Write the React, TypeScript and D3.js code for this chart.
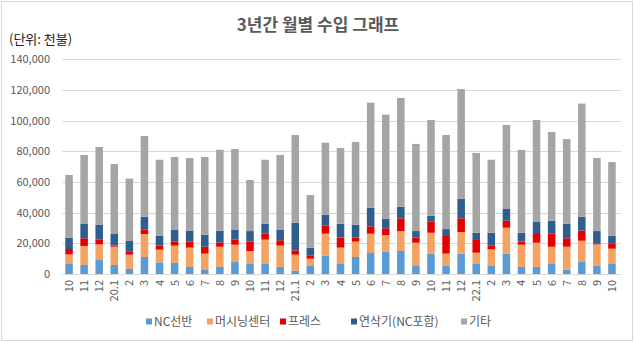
import React from "react";
import * as d3 from "d3";

const categories = ["10","11","12","20.1","2","3","4","5","6","7","8","9","10","11","12","21.1","2","3","4","5","6","7","8","9","10","11","12","22.1","2","3","4","5","6","7","8","9","10"];
const ncLathe = [6.5,5.9,9.1,5.9,3.3,11.1,7.6,7.2,4.6,2.6,4.6,7.8,6.5,6.5,4.6,2.2,5.2,11.9,6.5,11.1,13.7,14.6,15.0,5.2,13.3,5.2,13.3,6.5,5.2,13.3,4.6,4.6,6.5,2.8,7.8,5.2,6.5];
const machining = [6.3,12.4,10.2,11.9,9.3,15.0,8.3,11.3,12.6,10.7,13.2,11.3,8.5,15.9,13.9,10.4,4.8,14.4,10.7,10.0,12.6,10.8,13.0,15.2,13.6,8.1,14.1,7.4,10.9,16.9,14.5,15.8,11.3,15.0,13.9,14.1,10.0];
const press = [3.5,5.0,3.3,0.7,2.2,3.0,2.8,2.8,3.9,4.5,2.8,3.3,6.1,3.9,3.5,2.8,1.9,5.2,6.5,2.6,4.8,4.4,8.3,3.3,7.2,11.5,8.9,8.3,2.6,4.6,2.0,6.3,8.7,5.5,6.6,0.7,3.5];
const grinder = [7.4,9.3,9.4,7.6,6.7,8.3,6.3,7.4,7.2,7.8,7.7,6.3,6.9,6.5,6.7,18.1,5.3,7.2,9.1,8.5,12.1,6.3,7.6,4.3,3.9,4.5,12.8,4.7,8.2,7.6,5.8,7.2,8.3,9.5,9.1,8.0,5.0];
const others = [40.9,45.0,50.8,45.6,40.7,52.6,49.5,47.6,47.3,50.7,52.7,52.8,33.3,41.7,48.9,57.1,34.3,46.9,49.4,53.9,68.5,67.8,70.9,56.8,62.4,61.3,71.5,52.0,47.6,54.8,54.0,66.5,57.8,55.2,73.7,47.6,48.0];
const seriesNames = ["NC선반","머시닝센터","프레스","연삭기(NC포함)","기타"];
const seriesColors = ["#5b9bd5","#f4a262","#e50000","#2f5e8e","#a5a5a5"];
const yTicks = [0,20000,40000,60000,80000,100000,120000,140000];

const W = 634, H = 343;
const left = 61.5, right = 619.5, top = 59.3, bottom = 274;

export default function App() {
  const seriesData = [ncLathe, machining, press, grinder, others];
  const rows = categories.map((c, i) => {
    const r: any = { idx: i };
    seriesNames.forEach((s, k) => { r[s] = seriesData[k][i] * 1000; });
    return r;
  });
  const stack = d3.stack().keys(seriesNames)(rows as any);
  const x = d3.scaleBand<number>().domain(categories.map((_, i) => i)).range([left, right]).paddingInner(0.5).paddingOuter(0.25);
  const y = d3.scaleLinear().domain([0, 140000]).range([bottom, top]);
  const fmt = d3.format(",");
  const font = "'Malgun Gothic','Noto Sans CJK KR','Noto Sans',sans-serif";
  const legendX = [149, 210, 283, 354, 464];
  return (
    <svg width={W} height={H} style={{ position: "absolute", left: 0, top: 0, fontFamily: font }}>
      <rect x={0} y={0} width={W} height={H} fill="#fff" />
      <rect x={1.5} y={1.5} width={W - 3} height={H - 4} fill="none" stroke="#d9d9d9" />
      <text x={318} y={31} textAnchor="middle" fontSize={17} fontWeight="bold" fill="#595959">3년간 월별 수입 그래프</text>
      <text x={9} y={44} fontSize={13} fill="#222">(단위: 천불)</text>
      {yTicks.map(t => (
        <g key={t}>
          <line x1={62} x2={621} y1={Math.round(y(t)) + 0.5} y2={Math.round(y(t)) + 0.5} stroke="#d9d9d9" />
          <text x={50} y={y(t) + 4} textAnchor="end" fontSize={11} fill="#595959">{fmt(t)}</text>
        </g>
      ))}
      {stack.map((s, k) => (
        <g key={k} fill={seriesColors[k]}>
          {s.map((d, i) => (
            <rect key={i} x={x(i)} width={x.bandwidth()} y={y(d[1])} height={y(d[0]) - y(d[1])} />
          ))}
        </g>
      ))}
      {categories.map((c, i) => {
        const cx = (x(i) as number) + x.bandwidth() / 2;
        return (
          <text key={i} transform={`translate(${cx + 4},${280}) rotate(-90)`} textAnchor="end" fontSize={11} fill="#595959">{c}</text>
        );
      })}
      {seriesNames.map((n, k) => (
        <g key={n}>
          <rect x={legendX[k] - 3} y={318.5} width={6} height={6} fill={seriesColors[k]} />
          <text x={legendX[k] + 5} y={326} fontSize={12} fill="#595959">{n}</text>
        </g>
      ))}
    </svg>
  );
}
